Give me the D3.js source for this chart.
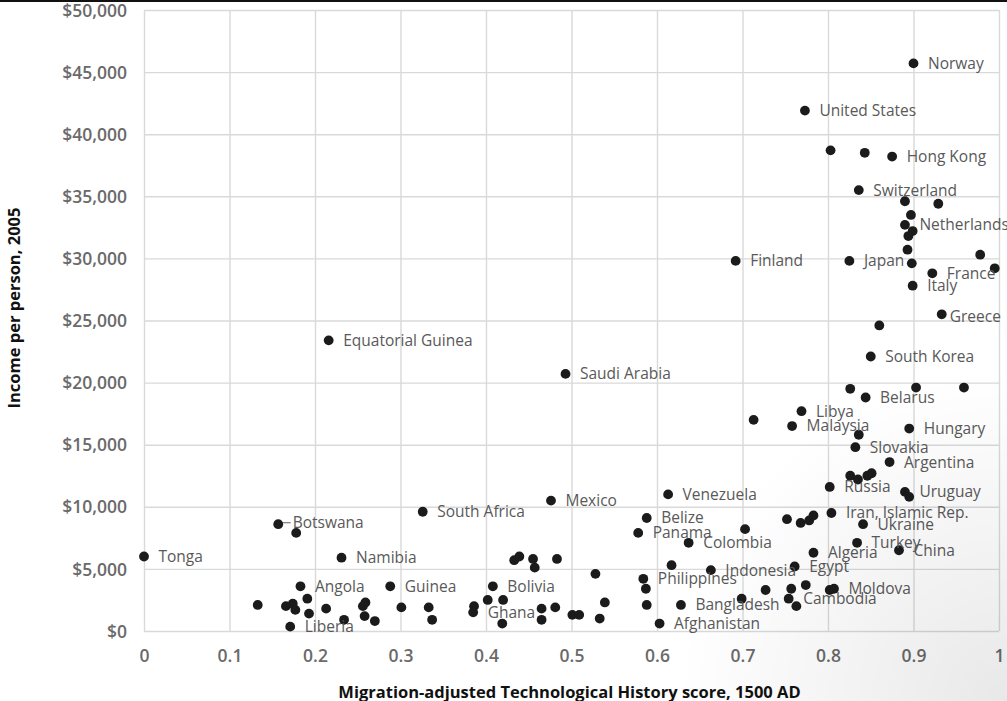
<!DOCTYPE html>
<html>
<head>
<meta charset="utf-8">
<script src="https://cdn.jsdelivr.net/npm/d3@7"></script>
<style>
  html, body { margin: 0; padding: 0; background: #fff; }
  svg { display: block; font-family: "Open Sans", "DejaVu Sans", sans-serif; }
</style>
</head>
<body>
<svg id="viz" width="1007" height="701"></svg>
<script>
(function () {
  "use strict";

  /*
  |--------------------------------------------------------------------------
  | Data
  |--------------------------------------------------------------------------
  */

  // Country labels ("" = unlabeled point)
  const countries = [
    "Norway", "United States", "", "", "Hong Kong", "Switzerland", "", "", "",
    "Netherlands", "", "", "", "", "Finland", "Japan", "", "", "France", "Italy",
    "Greece", "", "Equatorial Guinea", "South Korea", "Saudi Arabia", "", "", "",
    "Belarus", "Libya", "", "Malaysia", "Hungary", "", "Slovakia", "Argentina",
    "", "", "", "", "Russia", "Uruguay", "", "Venezuela", "Mexico", "South Africa",
    "Iran, Islamic Rep.", "", "", "", "", "Ukraine", "Belize", "Botswana", "",
    "Panama", "", "Colombia", "Turkey", "China", "Algeria", "Tonga", "Namibia",
    "", "", "", "", "", "", "Egypt", "Indonesia", "", "Philippines", "", "Angola",
    "Guinea", "Bolivia", "", "", "", "", "Moldova", "", "Cambodia", "", "", "",
    "", "", "", "", "", "Liberia", "", "", "", "", "", "", "", "", "", "Ghana",
    "", "", "", "", "", "", "", "", "", "", "", "Bangladesh", "Afghanistan"
  ];

  // Migration-adjusted Technological History score, 1500 AD
  const techScores = [
    0.900, 0.773, 0.803, 0.843, 0.875, 0.836, 0.890, 0.929, 0.897,
    0.890, 0.899, 0.894, 0.893, 0.978, 0.692, 0.825, 0.898, 0.995, 0.922, 0.899,
    0.933, 0.860, 0.216, 0.850, 0.493, 0.826, 0.903, 0.959,
    0.844, 0.769, 0.713, 0.758, 0.895, 0.836, 0.832, 0.872,
    0.826, 0.835, 0.846, 0.851, 0.802, 0.890, 0.895, 0.613, 0.476, 0.326,
    0.804, 0.752, 0.768, 0.778, 0.783, 0.841, 0.588, 0.157, 0.703,
    0.578, 0.178, 0.637, 0.834, 0.883, 0.783, 0.000, 0.231,
    0.433, 0.439, 0.455, 0.457, 0.483, 0.617, 0.761, 0.663, 0.528, 0.584, 0.587, 0.183,
    0.288, 0.408, 0.727, 0.757, 0.774, 0.802, 0.807, 0.699, 0.754, 0.763, 0.133, 0.166,
    0.174, 0.177, 0.191, 0.193, 0.213, 0.171, 0.234, 0.256, 0.259, 0.258, 0.270, 0.301, 0.333, 0.337, 0.386, 0.385,
    0.402, 0.420, 0.419, 0.465, 0.481, 0.465, 0.501, 0.509, 0.533, 0.539, 0.588, 0.628, 0.603
  ];

  // Income per person, 2005 (US$)
  const incomes = [
    45700, 41900, 38700, 38500, 38200, 35500, 34600, 34400, 33500,
    32700, 32200, 31800, 30700, 30300, 29800, 29800, 29600, 29200, 28800, 27800,
    25500, 24600, 23400, 22100, 20700, 19500, 19600, 19600,
    18800, 17700, 17000, 16500, 16300, 15800, 14800, 13600,
    12500, 12200, 12500, 12700, 11600, 11200, 10800, 11000, 10500, 9600,
    9500, 9000, 8700, 8900, 9300, 8600, 9100, 8600, 8200,
    7900, 7900, 7100, 7100, 6500, 6300, 6000, 5900,
    5700, 6000, 5800, 5100, 5800, 5300, 5200, 4900, 4600, 4200, 3400, 3600,
    3600, 3600, 3300, 3400, 3700, 3300, 3400, 2600, 2600, 2000, 2100, 2000,
    2200, 1700, 2600, 1400, 1800, 350, 900, 2000, 2300, 1200, 800, 1900, 1900, 900, 2000, 1500,
    2500, 2500, 600, 1800, 1900, 900, 1300, 1300, 1000, 2300, 2100, 2100, 600
  ];

  // Axis ticks
  const xTicks = [0, 0.1, 0.2, 0.3, 0.4, 0.5, 0.6, 0.7, 0.8, 0.9, 1];
  const yTicks = [0, 5000, 10000, 15000, 20000, 25000, 30000, 35000, 40000, 45000, 50000];

  const xTitle = "Migration-adjusted Technological History score, 1500 AD";
  const yTitle = "Income per person, 2005";

  /*
  |--------------------------------------------------------------------------
  | Layout settings
  |--------------------------------------------------------------------------
  */

  let margin = { top: 10, left: 144, right: 8, bottom: 70 };
  let fullWidth = 1007, fullHeight = 701;
  let width = 999 - margin.left;
  let height = 631 - margin.top;

  let dot = { r: 4.9, color: "#1b1b1b" };
  let label = { dx: 14.5, size: 15.5, color: "#595959" };

  // Labels that were dragged away from the default spot
  let labelNudge = { "Greece": { dx: 8, dy: 2 } };
  let leaderLines = { "Botswana": true };

  let points = countries.map((c, i) => ({ name: c, x: techScores[i], y: incomes[i] }));

  /*
  |--------------------------------------------------------------------------
  | Scales
  |--------------------------------------------------------------------------
  */

  let x = d3.scaleLinear().domain([0, 1]).range([0, width]);
  let y = d3.scaleLinear().domain([0, 50000]).range([height, 0]);

  /*
  |--------------------------------------------------------------------------
  | Base group
  |--------------------------------------------------------------------------
  */

  let svg = d3.select("#viz");

  // light vignette in the bottom-right corner
  let defs = svg.append("defs");
  let grad = defs.append("radialGradient")
    .attr("id", "vignette")
    .attr("gradientUnits", "userSpaceOnUse")
    .attr("cx", fullWidth).attr("cy", fullHeight).attr("r", 330);
  grad.append("stop").attr("offset", "0%").attr("stop-color", "#000").attr("stop-opacity", 0.09);
  grad.append("stop").attr("offset", "100%").attr("stop-color", "#000").attr("stop-opacity", 0);

  let g = svg.append("g")
    .attr("transform", `translate(${margin.left} ${margin.top})`);

  /*
  |--------------------------------------------------------------------------
  | Axes + gridlines
  |--------------------------------------------------------------------------
  */

  let yAxis = g.append("g")
    .call(d3.axisLeft(y)
      .tickValues(yTicks)
      .tickSize(-width)
      .tickPadding(17)
      .tickFormat(d => "$" + d3.format(",")(d)));

  let xAxis = g.append("g")
    .attr("transform", `translate(0 ${height})`)
    .call(d3.axisBottom(x)
      .tickValues(xTicks)
      .tickSize(-height)
      .tickFormat(d => d3.format("")(d)));

  [xAxis, yAxis].forEach(a => {
    a.select(".domain").remove();
    a.selectAll(".tick line")
      .attr("stroke", "#d9d9d9")
      .attr("stroke-width", 1.4);
    a.selectAll(".tick text")
      .attr("fill", "#6a6a6a")
      .attr("font-size", 17.5)
      .attr("font-weight", 600)
      .attr("font-family", "'Open Sans', sans-serif");
  });

  xAxis.selectAll(".tick text").attr("y", 25).attr("dy", "0.35em");
  yAxis.selectAll(".tick text").attr("dy", "0.35em");

  /*
  |--------------------------------------------------------------------------
  | Points + labels
  |--------------------------------------------------------------------------
  */

  g.append("g")
    .selectAll("line")
    .data(points.filter(d => leaderLines[d.name]))
    .enter()
    .append("line")
    .attr("x1", d => x(d.x) + 3)
    .attr("y1", d => y(d.y) - 1.5)
    .attr("x2", d => x(d.x) + label.dx - 2)
    .attr("y2", d => y(d.y) - 1.5)
    .attr("stroke", "#7a7a7a")
    .attr("stroke-width", 1.2);

  g.append("g")
    .selectAll("circle")
    .data(points)
    .enter()
    .append("circle")
    .attr("cx", d => x(d.x))
    .attr("cy", d => y(d.y))
    .attr("r", dot.r)
    .attr("fill", dot.color);

  g.append("g")
    .selectAll("text")
    .data(points.filter(d => d.name !== ""))
    .enter()
    .append("text")
    .attr("x", d => x(d.x) + (labelNudge[d.name] ? labelNudge[d.name].dx : label.dx))
    .attr("y", d => y(d.y) + (labelNudge[d.name] ? labelNudge[d.name].dy : 0) + (leaderLines[d.name] ? -2 : 0))
    .attr("dy", "0.35em")
    .attr("font-size", label.size)
    .attr("fill", label.color)
    .text(d => d.name);

  /*
  |--------------------------------------------------------------------------
  | Axis titles
  |--------------------------------------------------------------------------
  */

  svg.append("text")
    .attr("x", margin.left + width / 2 - 2)
    .attr("y", 692)
    .attr("dy", "0.35em")
    .attr("text-anchor", "middle")
    .attr("font-size", 16.5)
    .attr("font-weight", 700)
    .attr("fill", "#111")
    .text(xTitle);

  svg.append("text")
    .attr("transform", "translate(14 308) rotate(-90)")
    .attr("dy", "0.35em")
    .attr("text-anchor", "middle")
    .attr("font-size", 16.5)
    .attr("font-weight", 700)
    .attr("fill", "#111")
    .text(yTitle);

  // black rule along the top edge
  svg.append("rect")
    .attr("x", 0).attr("y", 0)
    .attr("width", fullWidth).attr("height", 2)
    .attr("fill", "#111");

  svg.append("rect")
    .attr("width", fullWidth).attr("height", fullHeight)
    .attr("fill", "url(#vignette)")
    .attr("pointer-events", "none");

})();
</script>
</body>
</html>
